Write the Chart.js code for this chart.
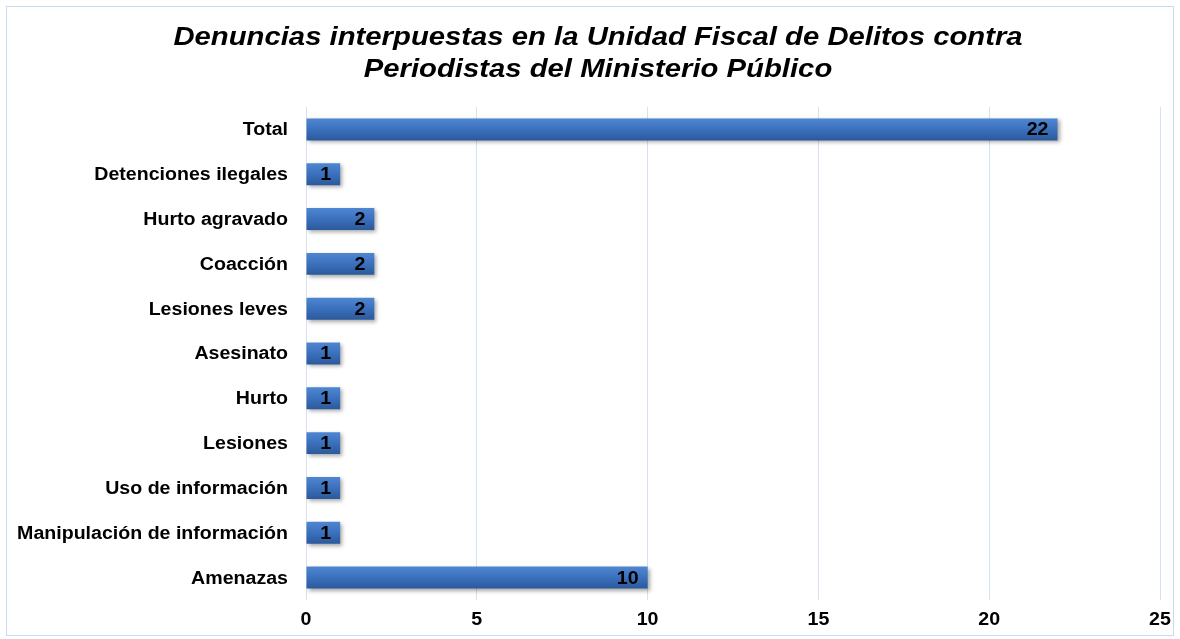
<!DOCTYPE html>
<html>
<head>
<meta charset="utf-8">
<script src="https://cdn.jsdelivr.net/npm/chart.js@4.4.1/dist/chart.umd.min.js"></script>
<style>
  html, body { margin: 0; padding: 0; background: #ffffff; }
  #wrap { width: 1180px; height: 639px; position: relative; }
</style>
</head>
<body>
<div id="wrap"><canvas id="c" width="1180" height="639"></canvas></div>
<script>
const categories = [
  "Total",
  "Detenciones ilegales",
  "Hurto agravado",
  "Coacción",
  "Lesiones leves",
  "Asesinato",
  "Hurto",
  "Lesiones",
  "Uso de información",
  "Manipulación de información",
  "Amenazas"
];
const values = [22, 1, 2, 2, 2, 1, 1, 1, 1, 1, 10];
const xTicks = [0, 5, 10, 15, 20, 25];
const titleLines = [
  "Denuncias interpuestas en la Unidad Fiscal de Delitos contra",
  "Periodistas del Ministerio Público"
];

const FONT = "'Liberation Sans', Arial, sans-serif";

function wideText(ctx, text, x, y, align, sx) {
  ctx.save();
  ctx.translate(x, y);
  ctx.scale(sx, 1);
  ctx.textAlign = align;
  ctx.fillText(text, 0, 0);
  ctx.restore();
}

const decorPlugin = {
  id: 'decor',
  beforeDraw(chart) {
    const ctx = chart.ctx;
    ctx.save();
    ctx.fillStyle = '#ffffff';
    ctx.fillRect(0, 0, chart.width, chart.height);
    ctx.strokeStyle = '#c9d9ee';
    ctx.lineWidth = 1;
    ctx.strokeRect(6.5, 6.5, chart.width - 13, chart.height - 10);
    // title
    ctx.font = "italic bold 26px " + FONT;
    ctx.fillStyle = '#000000';
    ctx.textBaseline = 'middle';
    const cx = 598;
    wideText(ctx, titleLines[0], cx, 38, 'center', 1.126);
    wideText(ctx, titleLines[1], cx, 70, 'center', 1.126);
    // axis labels
    ctx.font = "bold 18px " + FONT;
    const ys = chart.scales.y, xs = chart.scales.x;
    categories.forEach((c, i) => {
      wideText(ctx, c, 288, ys.getPixelForValue(i) + 1, 'right', 1.088);
    });
    xTicks.forEach(v => {
      wideText(ctx, String(v), xs.getPixelForValue(v), 620, 'center', 1.09);
    });
    ctx.restore();
  },
  beforeDatasetsDraw(chart) {
    const meta = chart.getDatasetMeta(0);
    const ctx = chart.ctx;
    meta.data.forEach(el => {
      const h = el.height;
      const g = ctx.createLinearGradient(0, el.y - h / 2, 0, el.y + h / 2);
      g.addColorStop(0, '#4f86d2');
      g.addColorStop(0.5, '#3b70bd');
      g.addColorStop(1, '#2b5a9b');
      el.options.backgroundColor = g;
    });
    ctx.save();
    ctx.shadowColor = 'rgba(0,0,0,0.35)';
    ctx.shadowBlur = 4;
    ctx.shadowOffsetX = 2;
    ctx.shadowOffsetY = 2;
  },
  afterDatasetsDraw(chart) {
    const ctx = chart.ctx;
    ctx.restore();
    const meta = chart.getDatasetMeta(0);
    ctx.save();
    ctx.font = "bold 18px " + FONT;
    ctx.fillStyle = '#000000';
    ctx.textBaseline = 'middle';
    meta.data.forEach((el, i) => {
      wideText(ctx, String(values[i]), el.x - 9, el.y + 1, 'right', 1.09);
    });
    ctx.restore();
  }
};

new Chart(document.getElementById('c'), {
  type: 'bar',
  data: {
    labels: categories,
    datasets: [{
      data: values,
      backgroundColor: (ctx) => '#3b70bd',
      borderWidth: 0,
      categoryPercentage: 1.0,
      barPercentage: 0.49
    }]
  },
  options: {
    indexAxis: 'y',
    responsive: false,
    animation: false,
    devicePixelRatio: 1,
    layout: { padding: { left: 0, right: 20, top: 107, bottom: 0 } },
    plugins: {
      legend: { display: false },
      tooltip: { enabled: false },
      title: { display: false }
    },
    scales: {
      x: {
        min: 0,
        max: 25,
        afterBuildTicks(scale) { scale.ticks = xTicks.map(v => ({ value: v })); },
        afterFit(scale) { scale.height = 39; },
        grid: { color: '#d6e2f3', drawTicks: false, lineWidth: 1 },
        border: { display: false },
        ticks: { display: false }
      },
      y: {
        afterFit(scale) { scale.width = 306; },
        grid: { display: false, drawTicks: false },
        border: { display: false },
        ticks: { display: false }
      }
    }
  },
  plugins: [decorPlugin]
});
</script>
</body>
</html>
